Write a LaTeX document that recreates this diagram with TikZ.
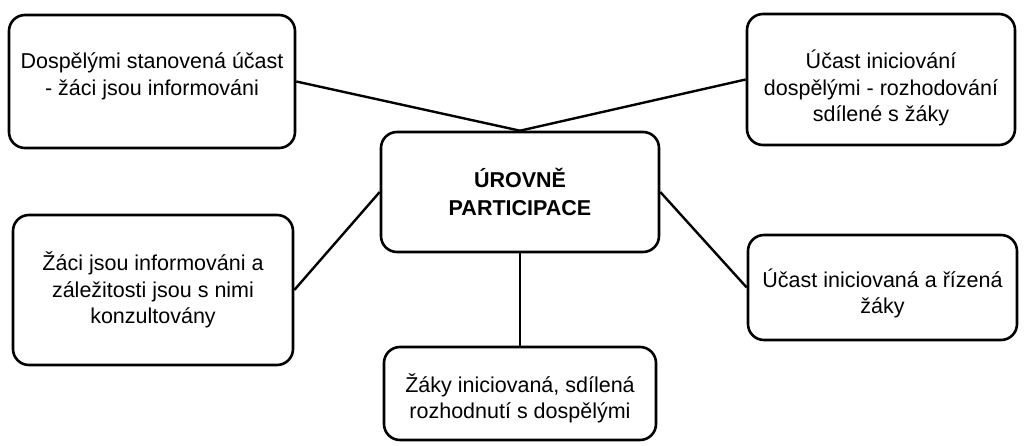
\documentclass[tikz,border=0pt]{standalone}
\usepackage{fontspec}
\setmainfont{Liberation Sans}
\newcommand{\padtop}[1]{\rule{0pt}{#1}}
\begin{document}
\begin{tikzpicture}[x=1pt,y=-1pt,
  box/.style={draw=black, line width=2.6pt, rounded corners=16pt, align=center,
    inner sep=0pt, font=\fontsize{21.5}{26.5}\selectfont},
  link/.style={draw=black, line width=2.4pt}]
\useasboundingbox (0,0) rectangle (1028,446);
\node[box, minimum width=286pt, minimum height=133pt, text depth=15pt] (b1) at (152,81.5)
  {Dospělými stanovená účast\\- žáci jsou informováni};
\node[box, minimum width=268pt, minimum height=131pt] (b2) at (881,79.5)
  {\padtop{36pt}Účast iniciování\\dospělými - rozhodování\\sdílené s žáky};
\node[box, minimum width=278pt, minimum height=120pt, font=\fontsize{21.5}{28}\selectfont\bfseries] (c) at (520,192)
  {ÚROVNĚ\\PARTICIPACE};
\node[box, minimum width=280pt, minimum height=150pt] (b4) at (153,290)
  {Žáci jsou informováni a\\záležitosti jsou s nimi\\konzultovány};
\node[box, minimum width=269pt, minimum height=105pt] (b5) at (882.5,287.5)
  {\padtop{30.5pt}Účast iniciovaná a řízená\\žáky};
\node[box, minimum width=272pt, minimum height=93pt] (b6) at (520,393.5)
  {\padtop{28.5pt}Žáky iniciovaná, sdílená\\rozhodnutí s dospělými};
\draw[link] (b1.east) -- (c.north);
\draw[link] (b2.west) -- (c.north);
\draw[link] (c.west) -- (b4.east);
\draw[link] (c.east) -- (b5.west);
\draw[link] (c.south) -- (b6.north);
\end{tikzpicture}
\end{document}
